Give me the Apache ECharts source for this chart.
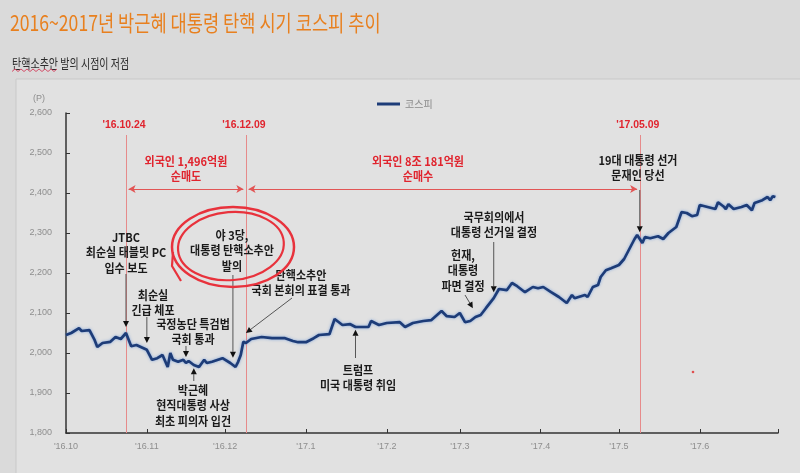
<!DOCTYPE html>
<html><head><meta charset="utf-8">
<script src="https://cdn.jsdelivr.net/npm/echarts@6/dist/echarts.min.js"></script>
<style>html,body{margin:0;padding:0;background:#dadada}#c{width:800px;height:473px}</style>
</head><body><div id="c"></div>
<script>
// ---------- data ----------
const dates = ['2016-10-01','2016-10-03','2016-10-06','2016-10-07','2016-10-10','2016-10-12','2016-10-13','2016-10-15','2016-10-18','2016-10-20','2016-10-22','2016-10-24','2016-10-26','2016-10-28',
'2016-11-01','2016-11-03','2016-11-05','2016-11-07','2016-11-09','2016-11-10','2016-11-11','2016-11-13','2016-11-15','2016-11-16','2016-11-17','2016-11-19','2016-11-21','2016-11-23','2016-11-24','2016-11-26','2016-11-30',
'2016-12-03','2016-12-05','2016-12-06','2016-12-07','2016-12-08','2016-12-09','2016-12-11','2016-12-15','2016-12-19','2016-12-24','2016-12-27','2016-12-29',
'2017-01-01','2017-01-04','2017-01-06','2017-01-10','2017-01-12','2017-01-15','2017-01-18','2017-01-20','2017-01-25','2017-01-26','2017-01-29',
'2017-02-01','2017-02-06','2017-02-08','2017-02-11','2017-02-15','2017-02-18','2017-02-22','2017-02-24','2017-02-27',
'2017-03-01','2017-03-03','2017-03-05','2017-03-07','2017-03-09','2017-03-11','2017-03-14','2017-03-16','2017-03-19','2017-03-21','2017-03-23','2017-03-26','2017-03-29','2017-03-31',
'2017-04-02','2017-04-05','2017-04-08','2017-04-11','2017-04-13','2017-04-14','2017-04-18','2017-04-19','2017-04-21','2017-04-23','2017-04-24','2017-04-26','2017-04-28',
'2017-05-01','2017-05-03','2017-05-07','2017-05-08','2017-05-10','2017-05-11','2017-05-13','2017-05-16','2017-05-18','2017-05-20','2017-05-23','2017-05-25','2017-05-27','2017-05-29','2017-05-31',
'2017-06-01','2017-06-04','2017-06-07','2017-06-08','2017-06-10','2017-06-11','2017-06-12','2017-06-14','2017-06-17','2017-06-19','2017-06-21','2017-06-22','2017-06-25','2017-06-27','2017-06-28','2017-06-29','2017-06-30'];
const kospi = [2045,2050,2062,2055,2057,2032,2015,2025,2028,2040,2035,2050,2017,2020,
2008,1983,1987,1995,1965,2000,1983,1978,1983,1975,1980,1970,1965,1983,1975,1978,1987,
1975,1965,1978,1995,2028,2025,2035,2040,2037,2037,2030,2027,
2027,2037,2045,2047,2085,2070,2072,2065,2065,2080,2070,
2075,2077,2065,2075,2080,2082,2105,2092,2090,
2100,2077,2080,2090,2095,2112,2137,2160,2157,2175,2167,2152,2165,2162,
2165,2152,2140,2125,2145,2137,2145,2140,2165,2170,2190,2207,2212,
2220,2235,2285,2295,2275,2290,2287,2292,2285,2300,2315,2352,2350,2342,2345,
2370,2365,2360,2377,2367,2360,2372,2360,2365,2370,2357,2375,2382,2390,2382,2392,2390];
const seriesName = '코스피';
const monthLabels = ["'16.10","'16.11","'16.12","'17.1","'17.2","'17.3","'17.4","'17.5","'17.6"];
const eventDates = ['2016-10-24','2016-12-09','2017-05-09'];
const eventLabels = ["'16.10.24","'16.12.09","'17.05.09"];
const flowRanges = [['2016-10-25','2016-12-08'],['2016-12-10','2017-05-08']];
const flowTexts = [['외국인 1,496억원','순매도'],['외국인 8조 181억원','순매수']];
const noteTexts = [
  ['JTBC','최순실 태블릿 PC','입수 보도'],
  ['최순실','긴급 체포'],
  ['국정농단 특검법','국회 통과'],
  ['박근혜','현직대통령 사상','최초 피의자 입건'],
  ['야 3당,','대통령 탄핵소추안','발의'],
  ['탄핵소추안','국회 본회의 표결 통과'],
  ['트럼프','미국 대통령 취임'],
  ['헌재,','대통령','파면 결정'],
  ['국무회의에서','대통령 선거일 결정'],
  ['19대 대통령 선거','문재인 당선']
];
const noteTips = [['2016-10-24',2065],['2016-11-01',2025],['2016-11-16',1990],['2016-11-19',1962],['2016-12-04',1988],
  ['2016-12-09',2050],['2017-01-20',2058],['2017-03-06',2112],['2017-03-14',2152],['2017-05-09',2302]];
const titleText = '2016~2017년 박근혜 대통령 탄핵 시기 코스피 추이';
const subtitleText = '탄핵소추안 발의 시점이 저점';

// ---------- layout (pixels) ----------
const noteLayout = [
  {x:126,y:237,from:[null,274]},
  {x:153,y:295,from:[null,317]},
  {x:193,y:324,from:[null,346]},
  {x:193,y:390,from:[null,381]},
  {x:232,y:235,from:[null,275]},
  {x:301,y:275,from:[292,298]},
  {x:358,y:370,from:[null,358]},
  {x:463,y:255,from:[465,295]},
  {x:494,y:217,from:[null,242]},
  {x:638,y:160,from:[null,190]}
];

function ts(s){const p=s.split('-').map(Number);return new Date(p[0],p[1]-1,p[2]).getTime();}
const DAY=86400000;
const chart = echarts.init(document.getElementById('c'));
const axisFont = {color:'#8e8e8e',fontSize:9,fontFamily:'Liberation Sans'};

chart.setOption({
  animation:false,
  backgroundColor:'#dadada',
  grid:{left:66,right:22,top:113,bottom:40},
  legend:{data:[seriesName],left:372,top:94,icon:'rect',itemWidth:23,itemHeight:3,itemGap:5,
    textStyle:{color:'#8a8a8a',fontSize:10,fontFamily:'Noto Sans CJK KR'}},
  xAxis:{type:'time',min:ts('2016-10-01'),max:ts('2017-07-01'),splitNumber:9,
    minInterval:28*DAY,maxInterval:31*DAY,
    axisLine:{lineStyle:{color:'#333',width:1.5}},
    axisTick:{show:true,inside:true,length:4,lineStyle:{color:'#333'}},
    axisLabel:Object.assign({margin:9,formatter:function(v){const d=new Date(v);const i=(d.getFullYear()-2016)*12+d.getMonth()-9;return (d.getDate()===1&&monthLabels[i])?monthLabels[i]:'';}},axisFont),
    splitLine:{show:false}},
  yAxis:{type:'value',min:1800,max:2600,interval:100,
    axisLine:{show:true,lineStyle:{color:'#333',width:1.5}},
    axisTick:{show:true,inside:true,length:4,lineStyle:{color:'#333'}},
    axisLabel:Object.assign({margin:14,formatter:function(v){return v.toLocaleString('en-US');}},axisFont),
    splitLine:{show:false}},
  series:[
    {name:seriesName,type:'line',showSymbol:false,z:5,
      data:dates.map((d,i)=>[ts(d),kospi[i]]),
      lineStyle:{color:'#1d3c78',width:2.7,shadowColor:'rgba(90,140,215,0.7)',shadowBlur:3},
      itemStyle:{color:'#1d3c78'}},
    {name:'events',type:'line',data:[],z:3,
      markLine:{silent:true,symbol:'none',label:{show:false},
        lineStyle:{color:'#e68a8a',width:1,type:'solid'},
        data:eventDates.map(d=>[{coord:[ts(d),2545]},{coord:[ts(d),1800]}])}},
    {name:'flows',type:'line',data:[],z:4,
      markLine:{silent:true,symbol:['arrow','arrow'],symbolSize:[6,7],label:{show:false},
        lineStyle:{color:'#e25555',width:1,type:'solid'},
        data:flowRanges.map(r=>[{coord:[ts(r[0]),2410]},{coord:[ts(r[1]),2410]}])}}
  ]
});

// ---------- annotations ----------
const g = [];
g.push({type:'rect',z:-10,shape:{x:16,y:79,width:790,height:400},style:{fill:'#e1e1e1',stroke:'#c9c9c9',lineWidth:1}});
g.push({type:'text',x:10,y:23,scaleX:0.8,style:{text:titleText,fill:'#e8801f',font:'22px "Noto Sans CJK KR"',textAlign:'left',textVerticalAlign:'middle'}});
g.push({type:'text',x:12,y:63,scaleX:0.77,style:{text:subtitleText,fill:'#2a2a2a',font:'13px "Noto Sans CJK KR"',textAlign:'left',textVerticalAlign:'middle'}});
(function(){const pts=[];for(let x=12;x<=58;x+=3){pts.push([x,(Math.round((x-12)/3)%2)?69:71.5]);}
  g.push({type:'polyline',shape:{points:pts},style:{stroke:'#d4506a',lineWidth:1,fill:null}});})();
g.push({type:'text',x:39,y:99,style:{text:'(P)',fill:'#8e8e8e',font:'9px "Liberation Sans"',textAlign:'center',textVerticalAlign:'middle'}});

function P(d,v){return chart.convertToPixel({gridIndex:0},[ts(d),v]);}
function txt(s,x,y,fill,font,sx){return {type:'text',x:x,y:y,scaleX:sx,z:20,style:{text:s,fill:fill,font:font,textAlign:'center',textVerticalAlign:'middle'}};}
function arrow(x1,y1,x2,y2){
  const a=Math.atan2(y2-y1,x2-x1),L=6,W=3;
  const bx=x2-L*Math.cos(a),by=y2-L*Math.sin(a),px=-Math.sin(a)*W,py=Math.cos(a)*W;
  return [{type:'line',z:20,shape:{x1:x1,y1:y1,x2:bx,y2:by},style:{stroke:'#555',lineWidth:1}},
          {type:'polygon',z:20,shape:{points:[[x2,y2],[bx+px,by+py],[bx-px,by-py]]},style:{fill:'#111'}}];
}
const noteFont='bold 12px "Noto Sans CJK KR"';
noteTexts.forEach((lines,i)=>{
  const L=noteLayout[i];
  lines.forEach((s,k)=>g.push(txt(s,L.x,L.y+k*15.5,'#1a1a1a',noteFont,0.92)));
  const tip=P(noteTips[i][0],noteTips[i][1]);
  const fx=L.from[0]==null?tip[0]:L.from[0];
  arrow(fx,L.from[1],tip[0],tip[1]).forEach(e=>g.push(e));
});
eventDates.forEach((d,i)=>{
  const p=P(d,2585);
  g.push(txt(eventLabels[i],p[0]-2,125,'#e0242e','bold 11px "Liberation Sans"',0.95));
});
flowTexts.forEach((lines,i)=>{
  const a=P(flowRanges[i][0],2410),b=P(flowRanges[i][1],2410);
  const cx=i===0?(a[0]+b[0])/2:418;
  lines.forEach((s,k)=>g.push(txt(s,cx,161+k*15,'#e0242e',noteFont,0.92)));
});
// hand-drawn circle
g.push({type:'ellipse',z:25,shape:{cx:233,cy:247,rx:61,ry:40},style:{stroke:'#e8323c',fill:null,lineWidth:2.5}});
g.push({type:'ellipse',z:25,rotation:0.08,originX:232,originY:247,shape:{cx:231,cy:246,rx:53,ry:34},style:{stroke:'#e8323c',fill:null,lineWidth:2.2}});
g.push({type:'polyline',z:25,shape:{points:[[173,252],[172,266],[181,281]]},style:{stroke:'#e8323c',lineWidth:2.2,fill:null}});
g.push({type:'circle',z:25,shape:{cx:693,cy:372,r:1.3},style:{fill:'#e05050'}});

chart.setOption({graphic:g});
</script></body></html>
